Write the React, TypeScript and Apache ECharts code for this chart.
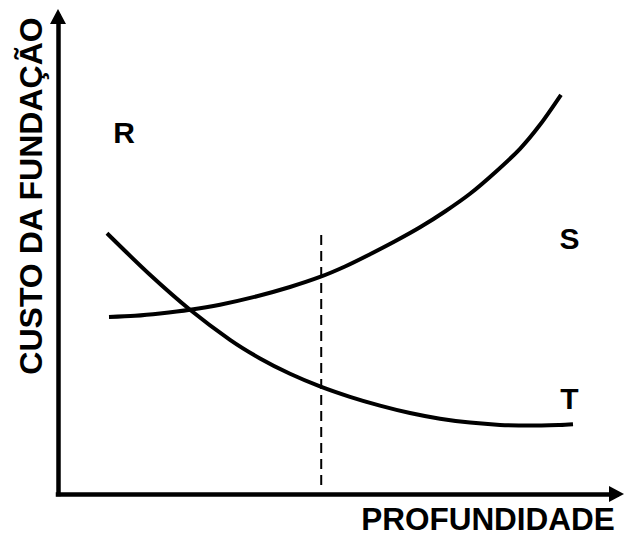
import React, { useEffect, useRef } from "react";
import * as echarts from "echarts";

// Curves (x: depth 0..100, y: cost 0..100)
const risingX = [9.13, 13.79, 18.26, 23.64, 29.01, 35.63, 41.54, 46.91, 51.39, 55.86, 60.34, 64.82, 69.29, 73.77, 78.25, 82.72, 86.3, 90.06];
const risingY = [37.07, 37.32, 37.8, 38.58, 39.65, 41.42, 43.35, 45.45, 47.64, 50.2, 52.92, 55.85, 59.16, 62.87, 67.33, 72.29, 77.32, 83.6];

const fallingX = [8.77, 16.47, 23.64, 30.8, 36.17, 41.54, 46.91, 52.28, 57.65, 63.03, 68.4, 73.77, 79.14, 84.51, 89.88, 92.21];
const fallingY = [54.6, 45.91, 38.58, 32.29, 28.4, 25.19, 22.55, 20.36, 18.51, 16.96, 15.77, 14.95, 14.47, 14.32, 14.47, 14.62];

const dashX = [47.13, 47.13];
const dashY = [1.89, 54.78];

const labelNames = ["R", "S", "T"];
const labelX = [11.83, 91.58, 91.58];
const labelY = [75.68, 53.46, 19.92];

const xTitle = "PROFUNDIDADE";
const yTitle = "CUSTO DA FUNDAÇÃO";

const FONT = "'Liberation Sans', Arial, Helvetica, sans-serif";

export default function App() {
  const ref = useRef<HTMLDivElement>(null);
  useEffect(() => {
    document.body.style.margin = "0";
    const chart = echarts.init(ref.current!, null, { renderer: "svg" });
    const axisLine = {
      show: true,
      symbol: ["none", "triangle"],
      symbolSize: [16, 15],
      lineStyle: { color: "#000", width: 4.5, cap: "square" },
    };
    const curve = (xs: number[], ys: number[]) => ({
      type: "line",
      data: xs.map((x, i) => [x, ys[i]]),
      smooth: 0.3,
      showSymbol: false,
      symbol: "none",
      lineStyle: { color: "#000", width: 4 },
    });
    chart.setOption({
      animation: false,
      backgroundColor: "#fff",
      grid: { left: 58, right: 7.5, top: 16.5, bottom: 43, containLabel: false },
      xAxis: {
        type: "value",
        min: 0,
        max: 100,
        axisLine,
        axisTick: { show: false },
        axisLabel: { show: false },
        splitLine: { show: false },
      },
      yAxis: {
        type: "value",
        min: 0,
        max: 100,
        axisLine,
        axisTick: { show: false },
        axisLabel: { show: false },
        splitLine: { show: false },
      },
      series: [
        curve(risingX, risingY),
        curve(fallingX, fallingY),
        {
          type: "line",
          data: dashX.map((x, i) => [x, dashY[i]]),
          showSymbol: false,
          symbol: "none",
          lineStyle: { color: "#000", width: 2, type: [10, 6] },
        },
        {
          type: "scatter",
          data: labelX.map((x, i) => ({ name: labelNames[i], value: [x, labelY[i]] })),
          symbolSize: 0,
          itemStyle: { color: "#000" },
          label: {
            show: true,
            position: "inside",
            formatter: (p: any) => p.name,
            color: "#000",
            opacity: 1,
            fontSize: 30,
            fontWeight: "bold",
            fontFamily: FONT,
          },
        },
      ],
      graphic: [
        {
          type: "text",
          x: 488,
          y: 519.4,
          style: {
            text: xTitle,
            fill: "#000",
            font: `bold 31.5px ${FONT}`,
            textAlign: "center",
            textVerticalAlign: "middle",
          },
        },
        {
          type: "text",
          x: 31,
          y: 196,
          rotation: Math.PI / 2,
          style: {
            text: yTitle,
            fill: "#000",
            font: `bold 32px ${FONT}`,
            textAlign: "center",
            textVerticalAlign: "middle",
          },
        },
      ],
    });
    return () => chart.dispose();
  }, []);
  return <div ref={ref} style={{ width: 624, height: 537 }} />;
}
